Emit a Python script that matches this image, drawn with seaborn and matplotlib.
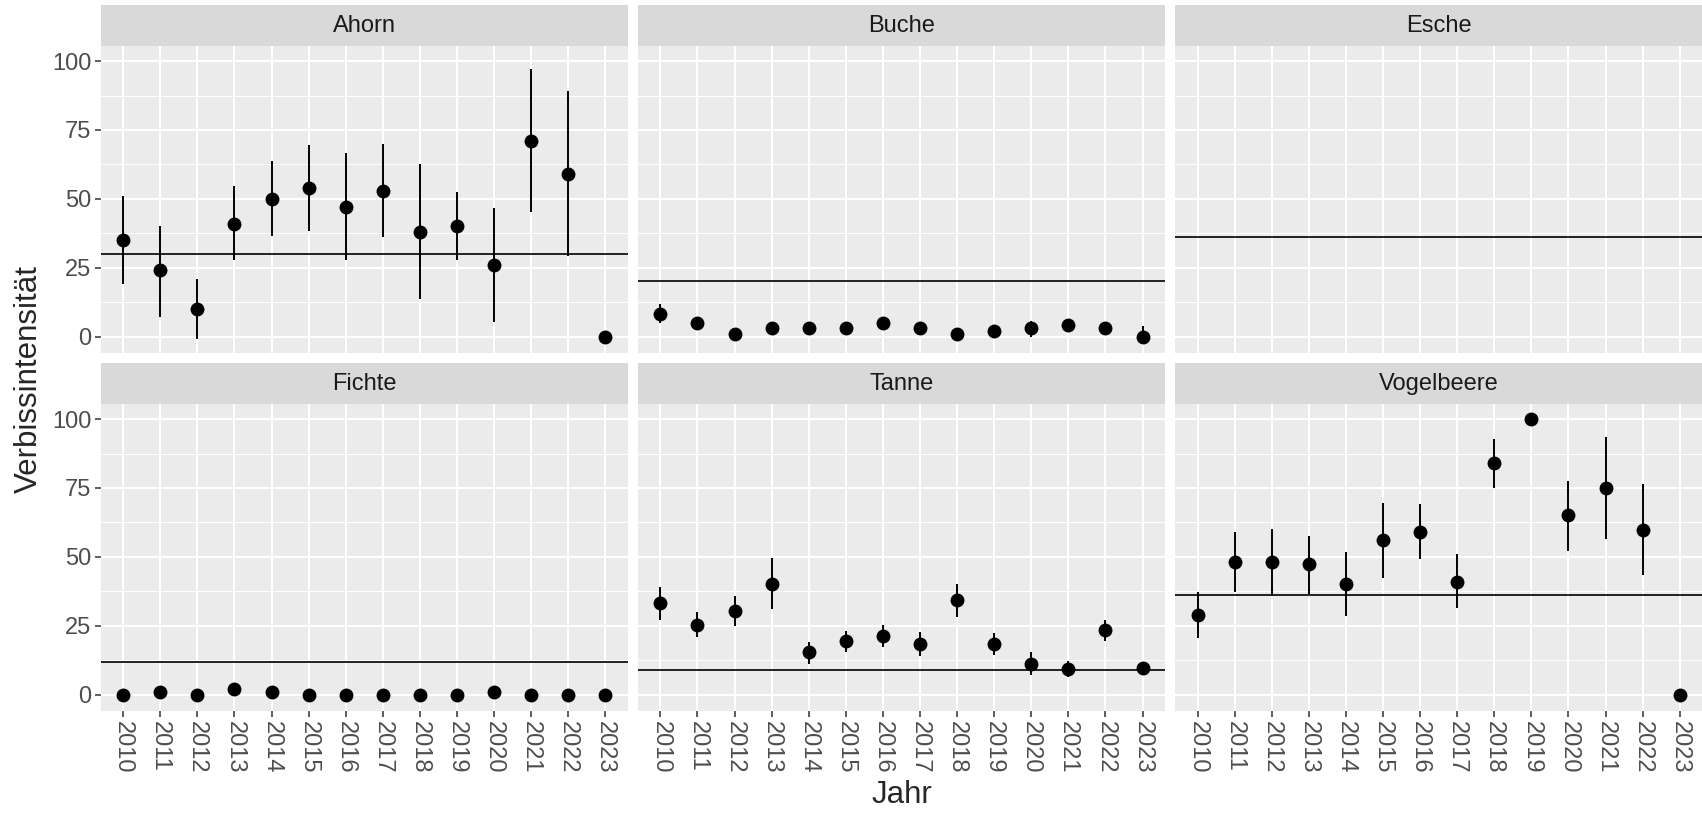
import pandas as pd
import seaborn as sns
import matplotlib.pyplot as plt
from matplotlib.patches import Rectangle
from matplotlib.ticker import FixedLocator

# ggplot-artiger Look
sns.set_theme(style="darkgrid", rc={"axes.facecolor": "#EBEBEB", "grid.color": "white"})
plt.rcParams["font.family"] = ["Liberation Sans", "DejaVu Sans"]

jahre = [str(j) for j in range(2010, 2024)]
arten = ["Ahorn", "Buche", "Esche", "Fichte", "Tanne", "Vogelbeere"]
referenz = [30, 20, 36, 11.7, 9, 36]  # waagrechte Linie je Baumart

ahorn_mw = [35, 24, 10, 41, 50, 54, 47, 53, 38, 40, 26, 71, 59, 0]
ahorn_lo = [19, 7.2, -1, 27.8, 36.5, 38.4, 27.8, 36, 13.6, 27.8, 5.3, 45.3, 29.2, 0]
ahorn_hi = [51, 40.2, 20.8, 54.5, 63.6, 69.7, 66.7, 70, 62.8, 52.5, 46.6, 97.2, 89, 0]

buche_mw = [8, 5, 1, 3, 3, 3, 5, 3, 1, 2, 3, 4, 3, 0]
buche_lo = [4.8, 3.8, 0.3, 2.2, 2.2, 2.2, 4, 2.2, 0.3, 1.2, 0, 2, 2.2, 0]
buche_hi = [11.7, 6.2, 1.7, 3.8, 3.8, 3.8, 6, 3.8, 1.7, 2.8, 5.8, 6, 3.8, 3.9]

# Esche: keine Aufnahmen, nur Referenzlinie

fichte_mw = [0, 1, 0, 2, 1, 0, 0, 0, 0, 0, 1, 0, 0, 0]
fichte_lo = [0, 0.5, 0, 1.3, 0.5, 0, 0, 0, 0, 0, 0.5, 0, 0, 0]
fichte_hi = [0.5, 1.5, 0.5, 2.7, 1.5, 0.5, 0.5, 0.5, 0.5, 0.5, 1.5, 0.5, 0.5, 0.5]

tanne_mw = [33.4, 25.2, 30.5, 40.1, 15.5, 19.3, 21.4, 18.4, 34.5, 18.4, 11.2, 9.2, 23.3, 9.6]
tanne_lo = [27.0, 20.9, 24.7, 31.0, 11.2, 15.5, 17.4, 14.0, 28.1, 14.5, 7.2, 6.4, 19.3, 8.5]
tanne_hi = [39.1, 30.0, 35.8, 49.7, 19.2, 23.2, 25.2, 22.7, 40.1, 22.2, 15.6, 12.0, 27.1, 10.7]

vogel_mw = [28.9, 48.3, 48.3, 47.3, 40.0, 56.0, 59.0, 41.0, 84.1, 100, 65.2, 75.0, 59.9, 0]
vogel_lo = [20.7, 37.1, 35.9, 36.6, 28.4, 42.4, 49.1, 31.3, 75.0, 100, 52.1, 56.4, 43.4, 0]
vogel_hi = [37.4, 59.0, 60.0, 57.4, 51.7, 69.6, 69.1, 51.1, 92.8, 100, 77.7, 93.4, 76.3, 0]

teile = []
for art, mw, lo, hi in [("Ahorn", ahorn_mw, ahorn_lo, ahorn_hi),
                        ("Buche", buche_mw, buche_lo, buche_hi),
                        ("Fichte", fichte_mw, fichte_lo, fichte_hi),
                        ("Tanne", tanne_mw, tanne_lo, tanne_hi),
                        ("Vogelbeere", vogel_mw, vogel_lo, vogel_hi)]:
    teile.append(pd.DataFrame({"Baumart": art, "Jahr": jahre, "Wert": mw, "unten": lo, "oben": hi}))
df = pd.concat(teile, ignore_index=True)


def zeichne(data, **kws):
    ax = plt.gca()
    ax.vlines(data["Jahr"], data["unten"], data["oben"], color="black", lw=1.4, zorder=3)
    sns.scatterplot(data=data, x="Jahr", y="Wert", color="black", s=100, linewidth=0, zorder=4, ax=ax)


g = sns.FacetGrid(df, col="Baumart", col_wrap=3, col_order=arten, sharex=True, sharey=True,
                  height=4, aspect=1.4, despine=False)
g.map_dataframe(zeichne)
g.figure.set_size_inches(17.02, 8.14)
g.figure.subplots_adjust(left=0.0593, right=1.0, top=0.9435, bottom=0.1265, wspace=0.02, hspace=0.166)

strip_h = 40.5 / 307
for i, (art, ax) in enumerate(zip(arten, g.axes.flat)):
    ax.set_title("")
    ax.set_xlabel("")
    ax.set_ylabel("")
    ax.axhline(referenz[i], color="black", lw=1.2, zorder=2)
    ax.set_xlim(-0.6, 13.6)
    ax.set_ylim(-6, 105.5)
    ax.set_yticks([0, 25, 50, 75, 100])
    ax.yaxis.set_minor_locator(FixedLocator([12.5, 37.5, 62.5, 87.5]))
    ax.grid(which="major", color="white", lw=1.5)
    ax.grid(which="minor", axis="y", color="white", lw=0.75)
    ax.set_axisbelow(True)
    for s in ax.spines.values():
        s.set_visible(False)
    ax.tick_params(which="major", length=4, width=1.1, color="#333333",
                   labelsize=17, labelcolor="#4D4D4D", pad=3)
    ax.tick_params(which="minor", length=0)
    links = i % 3 == 0
    unten = i >= 3
    ax.tick_params(axis="y", left=links, labelleft=links)
    ax.tick_params(axis="x", bottom=unten, labelbottom=unten, labelrotation=-90)
    # Streifen mit Baumart
    ax.add_patch(Rectangle((0, 1), 1, strip_h, transform=ax.transAxes, clip_on=False,
                           facecolor="#D9D9D9", edgecolor="none"))
    ax.text(0.5, 1 + strip_h / 2, art, transform=ax.transAxes, ha="center", va="center",
            fontsize=17, color="#1A1A1A")

g.figure.text(0.0167, 0.534, "Verbissintensität", rotation=90, ha="center", va="center", fontsize=22.5)
g.figure.text(0.53, 0.023, "Jahr", ha="center", va="center", fontsize=22.5)

g.figure.savefig("out.png", dpi=100)
